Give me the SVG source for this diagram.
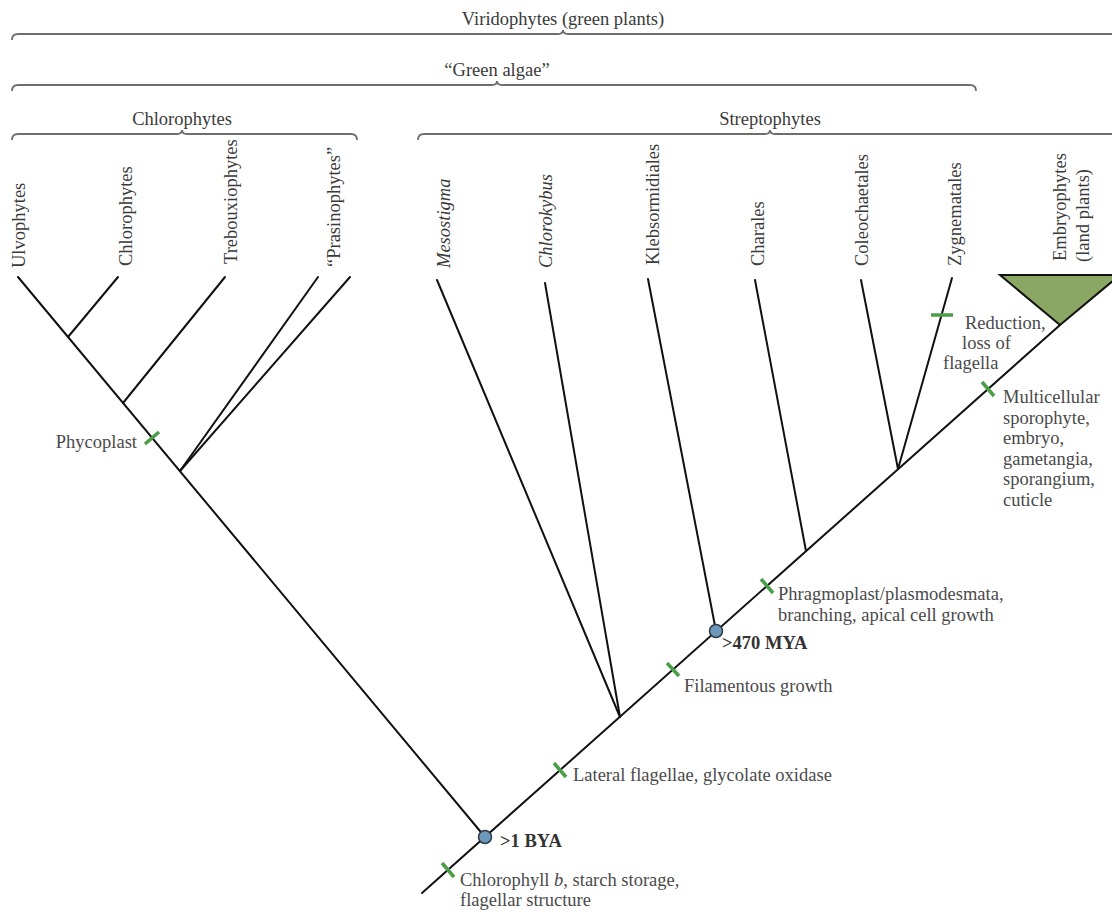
<svg xmlns="http://www.w3.org/2000/svg" width="1112" height="915" viewBox="0 0 1112 915">
  <style>
    .lbl { font-family: "Liberation Serif", "Times New Roman", serif; font-size: 18.5px; fill: #3a3a3a; }
    .it { font-style: italic; }
    .note { font-family: "Liberation Serif", "Times New Roman", serif; font-size: 18.5px; fill: #4a4a4a; }
    .age { font-family: "Liberation Serif", "Times New Roman", serif; font-size: 18.5px; font-weight: bold; fill: #333; }
    .brace { fill: none; stroke: #6e6e6e; stroke-width: 1.8; }
    .branch { fill: none; stroke: #111; stroke-width: 2; stroke-linecap: round; }
    .tick { stroke: #4a9e45; stroke-width: 3.5; }
    .node { fill: #6e98ba; stroke: #2c3a48; stroke-width: 1.5; }
  </style>
  <rect width="1112" height="915" fill="#fff"/>

  <!-- group brackets -->
  <g id="brackets">
    <path class="brace" d="M12,40 Q12,34 18,34 L558,34 Q563,34 563,30 Q563,34 568,34 L1114,34"/>
    <text class="lbl" x="563" y="25" text-anchor="middle">Viridophytes (green plants)</text>
    <path class="brace" d="M12,91 Q12,85 18,85 L492,85 Q497,85 497,81 Q497,85 502,85 L970,85 Q976,85 976,91"/>
    <text class="lbl" x="497" y="76" text-anchor="middle">“Green algae”</text>
    <path class="brace" d="M12,140 Q12,134 18,134 L177,134 Q182,134 182,130 Q182,134 187,134 L351,134 Q357,134 357,140"/>
    <text class="lbl" x="182" y="125" text-anchor="middle">Chlorophytes</text>
    <path class="brace" d="M418,140 Q418,134 424,134 L765,134 Q770,134 770,130 Q770,134 775,134 L1114,134"/>
    <text class="lbl" x="770" y="125" text-anchor="middle">Streptophytes</text>
  </g>

  <!-- tree branches -->
  <g id="connectors">
    <path class="branch" d="M485,837 L18,277"/>
    <path class="branch" d="M68,337 L118,277"/>
    <path class="branch" d="M123,403 L225,277"/>
    <path class="branch" d="M180,471 L318,277"/>
    <path class="branch" d="M180,471 L350,277"/>
    <path class="branch" d="M422,893 L1060,325"/>
    <path class="branch" d="M620,717 L437,280"/>
    <path class="branch" d="M620,717 L545,283"/>
    <path class="branch" d="M716,631 L648,279"/>
    <path class="branch" d="M806,551 L755,280"/>
    <path class="branch" d="M898,469 L861,280"/>
    <path class="branch" d="M898,469 L952,278"/>
  </g>

  <!-- Embryophytes clade -->
  <g id="embryophytes">
    <polygon points="1000,275 1120,275 1060,325" fill="#8ba764" stroke="#111" stroke-width="2" stroke-linejoin="miter"/>
    <text class="lbl" transform="translate(1066,261) rotate(-90)">Embryophytes</text>
    <text class="lbl" transform="translate(1089,262) rotate(-90)">(land plants)</text>
  </g>

  <!-- taxon labels -->
  <g id="taxa">
    <text class="lbl" transform="translate(25,268) rotate(-90)">Ulvophytes</text>
    <text class="lbl" transform="translate(132,266) rotate(-90)">Chlorophytes</text>
    <text class="lbl" transform="translate(237,264) rotate(-90)">Trebouxiophytes</text>
    <text class="lbl" transform="translate(340,267) rotate(-90)">“Prasinophytes”</text>
    <text class="lbl it" transform="translate(450,268) rotate(-90)">Mesostigma</text>
    <text class="lbl it" transform="translate(552,268) rotate(-90)">Chlorokybus</text>
    <text class="lbl" transform="translate(659,265) rotate(-90)">Klebsormidiales</text>
    <text class="lbl" transform="translate(764,266) rotate(-90)">Charales</text>
    <text class="lbl" transform="translate(868,266) rotate(-90)">Coleochaetales</text>
    <text class="lbl" transform="translate(961,266) rotate(-90)">Zygnematales</text>
  </g>

  <!-- character changes -->
  <g id="phycoplast">
    <line class="tick" x1="145" y1="444" x2="159" y2="432"/>
    <text class="note" x="137" y="448" text-anchor="end">Phycoplast</text>
  </g>
  <g id="chlorophyll-b">
    <line class="tick" x1="442" y1="863" x2="454" y2="877"/>
    <text class="note" x="460" y="886">Chlorophyll <tspan font-style="italic">b</tspan>, starch storage,</text>
    <text class="note" x="460" y="906">flagellar structure</text>
  </g>
  <g id="lateral-flagellae">
    <line class="tick" x1="554" y1="763" x2="566" y2="777"/>
    <text class="note" x="573" y="781">Lateral flagellae, glycolate oxidase</text>
  </g>
  <g id="filamentous">
    <line class="tick" x1="667" y1="663" x2="679" y2="676"/>
    <text class="note" x="684" y="692">Filamentous growth</text>
  </g>
  <g id="phragmoplast">
    <line class="tick" x1="761" y1="579" x2="773" y2="593"/>
    <text class="note" x="778" y="600">Phragmoplast/plasmodesmata,</text>
    <text class="note" x="778" y="621">branching, apical cell growth</text>
  </g>
  <g id="multicellular">
    <line class="tick" x1="982" y1="382" x2="994" y2="396"/>
    <text class="note" x="1003" y="403">Multicellular</text>
    <text class="note" x="1003" y="424">sporophyte,</text>
    <text class="note" x="1003" y="444">embryo,</text>
    <text class="note" x="1003" y="465">gametangia,</text>
    <text class="note" x="1003" y="485">sporangium,</text>
    <text class="note" x="1003" y="506">cuticle</text>
  </g>
  <g id="reduction">
    <line class="tick" x1="931" y1="315" x2="953" y2="315"/>
    <text class="note" x="965" y="329">Reduction,</text>
    <text class="note" x="962" y="349">loss of</text>
    <text class="note" x="943" y="369">flagella</text>
  </g>

  <!-- dated nodes -->
  <g id="node-1bya">
    <circle class="node" cx="485" cy="837" r="6.5"/>
    <text class="age" x="500" y="847">&gt;1 BYA</text>
  </g>
  <g id="node-470mya">
    <circle class="node" cx="716" cy="631" r="6.5"/>
    <text class="age" x="722" y="649">&gt;470 MYA</text>
  </g>
</svg>
